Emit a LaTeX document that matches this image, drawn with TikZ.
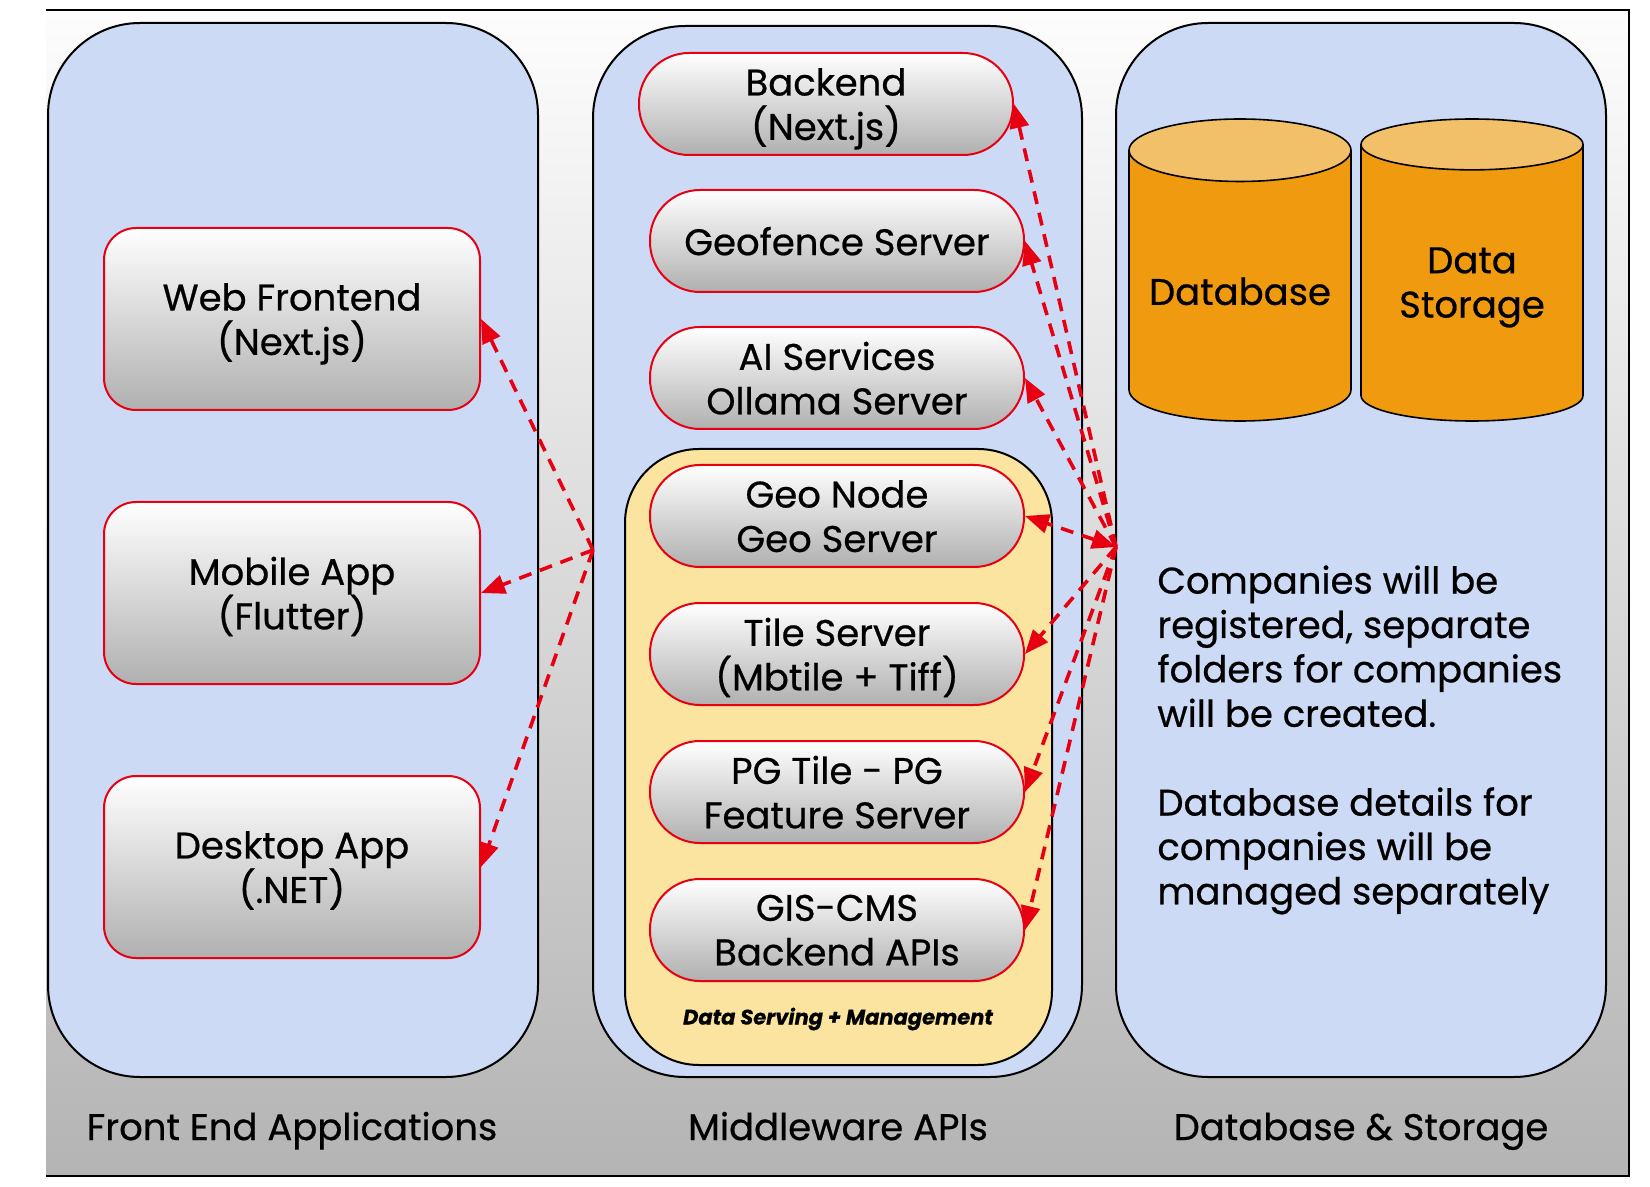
\documentclass[tikz,border=0pt]{standalone}
\usepackage{fontspec}
\setmainfont{Poppins}[FakeBold=0.6]
\usepackage{xcolor}
\usepackage{tikz}
\usetikzlibrary{arrows.meta,shapes.geometric}

\definecolor{colblue}{RGB}{204,218,245}
\definecolor{panelyellow}{RGB}{250,228,160}
\definecolor{cylbody}{RGB}{240,154,16}
\definecolor{cyltop}{RGB}{243,192,106}
\definecolor{linkred}{RGB}{230,0,18}
\definecolor{bgtop}{RGB}{253,253,253}
\definecolor{bgbot}{RGB}{180,180,180}

\begin{document}
\begin{tikzpicture}[
  x=0.5pt, y=-0.5pt,
  every node/.style={font=\fontsize{18.5}{22.2}\selectfont},
  >={Triangle[length=12pt,width=9.5pt]},
  column/.style={draw=black, line width=1pt, fill=colblue, rounded corners=46pt},
  app/.style={draw=linkred, line width=1pt, rounded corners=16pt,
              top color=white, bottom color=gray!62, text depth=0pt,
              minimum width=188pt, minimum height=91pt, align=center},
  svc/.style={app, rounded corners=25pt, minimum width=187pt, minimum height=51pt},
  store/.style={cylinder, shape border rotate=90, aspect=0.32, draw=black,
                line width=0.8pt, cylinder uses custom fill,
                cylinder body fill=cylbody, cylinder end fill=cyltop,
                minimum width=111pt, minimum height=151pt, align=center,
                anchor=shape center},
  link/.style={linkred, line width=1.8pt, dash pattern=on 6.5pt off 4.5pt},
]
  \useasboundingbox (0,0) rectangle (1650,1187);

  % Background
  \shade[top color=bgtop, bottom color=bgbot] (46,10.5) rectangle (1629,1176);
  \draw[line width=1pt] (46,10.5) -- (1629,10.5) -- (1629,1176) -- (46,1176);

  % Columns
  \draw[column] (48,23) rectangle (538,1077);
  \draw[column] (593,26) rectangle (1082,1077);
  \draw[column] (1116,23) rectangle (1606,1077);
  \draw[line width=1pt, fill=panelyellow, rounded corners=37pt] (625,449) rectangle (1052,1065);

  % Front end column
  \node[app] (web)  at (292,319) {Web Frontend\\(Next.js)};
  \node[app] (mob)  at (292,593) {Mobile App\\(Flutter)};
  \node[app] (desk) at (292,867) {Desktop App\\(.NET)};

  % Middleware column
  \node[svc] (backend)  at (826,104) {Backend\\(Next.js)};
  \node[svc] (geofence) at (837,241) {Geofence Server};
  \node[svc] (ai)       at (837,378) {AI Services\\Ollama Server};
  \node[svc] (geonode)  at (837,516) {Geo Node\\Geo Server};
  \node[svc] (tile)     at (837,654) {Tile Server\\(Mbtile + Tiff)};
  \node[svc] (pgtile)   at (837,792) {PG Tile - PG\\Feature Server};
  \node[svc] (giscms)   at (837,930) {GIS-CMS\\Backend APIs};
  \node[font=\fontsize{10.5}{12}\selectfont\bfseries\itshape] (dsm) at (838,1019)
    {Data Serving + Management};

  % Storage column
  \node[store] (db)  at (1240,270) {Database};
  \node[store] (dst) at (1472,270) {Data\\Storage};
  \node[anchor=north west, align=left, inner sep=0pt] (note) at (1157,565)
    {Companies will be\\registered, separate\\folders for companies\\will be created.\\[22.2pt]
     Database details for\\companies will be\\managed separately};

  % Column captions
  \node[anchor=base] (capfe) at (292,1140) {Front End Applications};
  \node[anchor=base] (capmw) at (838,1140) {Middleware APIs};
  \node[anchor=base] (capds) at (1361,1140) {Database \& Storage};

  % Hubs
  \coordinate (lhub) at (593,550);
  \coordinate (rhub) at (1116,547);

  % Arrows: hub -> front end
  \draw[link, ->] (lhub) -- (web.east);
  \draw[link, ->] (lhub) -- (mob.east);
  \draw[link, ->] (lhub) -- (desk.east);
  % Arrows: hub -> middleware
  \draw[link, ->] (rhub) -- (backend.east);
  \draw[link, ->] (rhub) -- (geofence.east);
  \draw[link, ->] (rhub) -- (ai.east);
  \draw[link, <->] (rhub) -- (geonode.east);
  \draw[link, ->] (rhub) -- (tile.east);
  \draw[link, ->] (rhub) -- (pgtile.east);
  \draw[link, ->] (rhub) -- (giscms.east);
\end{tikzpicture}
\end{document}
